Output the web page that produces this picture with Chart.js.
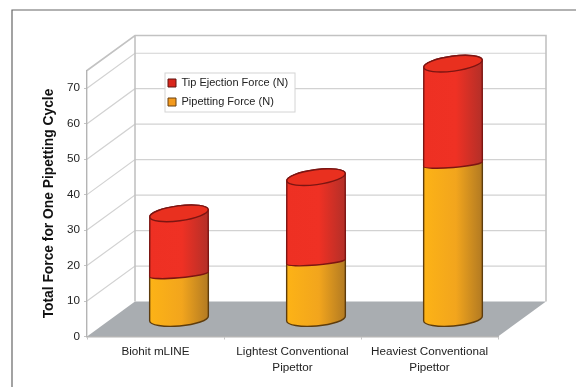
<!DOCTYPE html>
<html>
<head>
<meta charset="utf-8">
<style>
  html, body { margin: 0; padding: 0; background: #fff; }
  canvas { display: block; filter: blur(0.4px); }
</style>
<script src="https://cdn.jsdelivr.net/npm/chart.js@4/dist/chart.umd.min.js"></script>
</head>
<body>
<canvas id="forceChart" width="576" height="387"></canvas>
<script>
// values
const categories = ['Biohit mLINE', ['Lightest Conventional', 'Pipettor'], ['Heaviest Conventional', 'Pipettor']];
const pipettingForce = [12.6, 16.2, 43.7];
const tipEjectionForce = [17.2, 23.8, 28.3];
const yTickStep = 10;
const yMax = 75;

// how far the back wall sits behind the front plane, in px
const DEPTH_X = 48;
const DEPTH_Y = -35;
const ELLIPSE_RY = 7.5;
const SPLIT_RY = 3.5; // the red/orange seam is a much flatter curve than the cap

function sideGradient(ctx, x0, x1, stops) {
    const g = ctx.createLinearGradient(x0, 0, x1, 0);
    g.addColorStop(0, stops[0]);
    g.addColorStop(0.55, stops[1]);
    g.addColorStop(1, stops[2]);
    return g;
}

// one stacked piece of a cylinder, using the geometry chart.js worked out for the bar
function drawCylinder(ctx, el, look, isTop) {
    const cx = el.x + DEPTH_X / 2 - 0.5;
    const rx = el.width / 2;
    const topY = el.y + DEPTH_Y / 2;
    const baseY = el.base + DEPTH_Y / 2;
    const topTilt = isTop ? -0.13 : -0.09;
    const baseTilt = -0.085;
    const baseRy = isTop ? SPLIT_RY : ELLIPSE_RY;

    ctx.save();
    ctx.lineWidth = 1.4;
    ctx.strokeStyle = look.edge;
    ctx.fillStyle = sideGradient(ctx, cx - rx, cx + rx, look.side);
    ctx.beginPath();
    ctx.ellipse(cx, baseY, rx, baseRy, baseTilt, 0, Math.PI);
    ctx.ellipse(cx, topY, rx, ELLIPSE_RY, topTilt, Math.PI, Math.PI * 2);
    ctx.closePath();
    ctx.fill();
    ctx.stroke();
    if (isTop) {
        ctx.fillStyle = look.cap;
        ctx.beginPath();
        ctx.ellipse(cx, topY, rx, ELLIPSE_RY, topTilt, 0, Math.PI * 2);
        ctx.fill();
        ctx.stroke();
    }
    ctx.restore();
}

const looks = [
    { side: ['#fdb316', '#f2a51d', '#b27a22'], edge: '#5e3c0c', cap: '#f5a81c' },
    { side: ['#ee3023', '#ef3124', '#b32f28'], edge: '#7c1512', cap: '#e9301f' }
];

const legendBox = { left: 165, top: 73, right: 295, bottom: 112 };

const wallsPlugin = {
    id: 'walls',
    beforeDraw(chart) {
        const ctx = chart.ctx;
        const a = chart.chartArea;
        const y = chart.scales.y;
        ctx.save();

        // outer frame of the figure, runs off the page at right and bottom
        ctx.strokeStyle = '#666';
        ctx.lineWidth = 1.2;
        ctx.beginPath();
        ctx.moveTo(12, 387);
        ctx.lineTo(12, 10);
        ctx.lineTo(576, 10);
        ctx.stroke();

        // floor
        ctx.fillStyle = '#a9adb1';
        ctx.beginPath();
        ctx.moveTo(a.left, a.bottom);
        ctx.lineTo(a.left + DEPTH_X, a.bottom + DEPTH_Y);
        ctx.lineTo(a.right + DEPTH_X, a.bottom + DEPTH_Y);
        ctx.lineTo(a.right, a.bottom);
        ctx.closePath();
        ctx.fill();

        // gridlines across the side wall and the back wall
        ctx.strokeStyle = '#d2d2d2';
        ctx.lineWidth = 1.2;
        y.ticks.forEach(function(t) {
            if (t.value === 0) return;
            const py = y.getPixelForValue(t.value);
            ctx.beginPath();
            ctx.moveTo(a.left, py);
            ctx.lineTo(a.left + DEPTH_X, py + DEPTH_Y);
            ctx.lineTo(a.right + DEPTH_X, py + DEPTH_Y);
            ctx.stroke();
        });

        // wall outline
        ctx.strokeStyle = '#c2c2c2';
        ctx.lineWidth = 1.6;
        ctx.beginPath();
        ctx.moveTo(a.left, a.top);
        ctx.lineTo(a.left + DEPTH_X, a.top + DEPTH_Y);
        ctx.lineTo(a.right + DEPTH_X, a.top + DEPTH_Y);
        ctx.lineTo(a.right + DEPTH_X, a.bottom + DEPTH_Y);
        ctx.moveTo(a.left + DEPTH_X, a.top + DEPTH_Y);
        ctx.lineTo(a.left + DEPTH_X, a.bottom + DEPTH_Y);
        ctx.stroke();

        // legend panel
        ctx.fillStyle = '#fff';
        ctx.strokeStyle = '#d4d4d4';
        ctx.lineWidth = 1;
        ctx.fillRect(legendBox.left, legendBox.top, legendBox.right - legendBox.left, legendBox.bottom - legendBox.top);
        ctx.strokeRect(legendBox.left, legendBox.top, legendBox.right - legendBox.left, legendBox.bottom - legendBox.top);
        ctx.restore();
    },
    afterLayout(chart) {
        // pull the legend out to where it sits in the picture
        const l = chart.legend;
        l.left = 160;
        l.top = 69.5;
        l.right = 300;
        l.bottom = 116;
    },
    beforeDatasetDraw() {
        return false; // the cylinders below replace the flat bars
    },
    afterDatasetsDraw(chart) {
        chart.data.datasets.forEach(function(ds, i) {
            chart.getDatasetMeta(i).data.forEach(function(el) {
                drawCylinder(chart.ctx, el, looks[i], i === chart.data.datasets.length - 1);
            });
        });
    }
};

const chart = new Chart(document.getElementById('forceChart'), {
    type: 'bar',
    data: {
        labels: categories,
        datasets: [
            { label: 'Pipetting Force (N)', data: pipettingForce, backgroundColor: '#f39a1e', borderColor: '#6b4010', borderWidth: 1 },
            { label: 'Tip Ejection Force (N)', data: tipEjectionForce, backgroundColor: '#d9261c', borderColor: '#5e1410', borderWidth: 1 }
        ]
    },
    options: {
        responsive: false,
        animation: false,
        barPercentage: 0.43,
        categoryPercentage: 1,
        layout: { padding: { left: 0, top: 70.5, right: 78, bottom: 0 } },
        plugins: {
            tooltip: { enabled: false },
            legend: {
                position: 'chartArea',
                align: 'start',
                reverse: true,
                labels: {
                    boxWidth: 8,
                    boxHeight: 8,
                    padding: 8,
                    color: '#222',
                    font: { family: '"Liberation Sans", Arial, sans-serif', size: 11 }
                }
            }
        },
        scales: {
            x: {
                stacked: true,
                afterFit(scale) { scale.height = 50.5; },
                border: { color: '#b4b4b4', width: 1.4 },
                grid: { offset: true, drawOnChartArea: false, tickLength: 3, color: '#c4c4c4' },
                ticks: {
                    maxRotation: 0,
                    padding: 4,
                    color: '#222',
                    font: { family: '"Liberation Sans", Arial, sans-serif', size: 11.7, lineHeight: 1.4 }
                }
            },
            y: {
                stacked: true,
                min: 0,
                max: yMax,
                afterFit(scale) { scale.width = 87; },
                border: { color: '#b4b4b4', width: 1.4 },
                grid: { drawOnChartArea: false, tickLength: 3, color: '#c4c4c4' },
                title: {
                    display: true,
                    text: 'Total Force for One Pipetting Cycle',
                    color: '#111',
                    padding: { top: 41, bottom: 0 },
                    font: { family: '"Liberation Sans", Arial, sans-serif', size: 13.8, weight: 'bold' }
                },
                ticks: {
                    stepSize: yTickStep,
                    includeBounds: false,
                    padding: 4,
                    color: '#222',
                    font: { family: '"Liberation Sans", Arial, sans-serif', size: 11.7 }
                }
            }
        }
    },
    plugins: [wallsPlugin]
});
</script>
</body>
</html>
